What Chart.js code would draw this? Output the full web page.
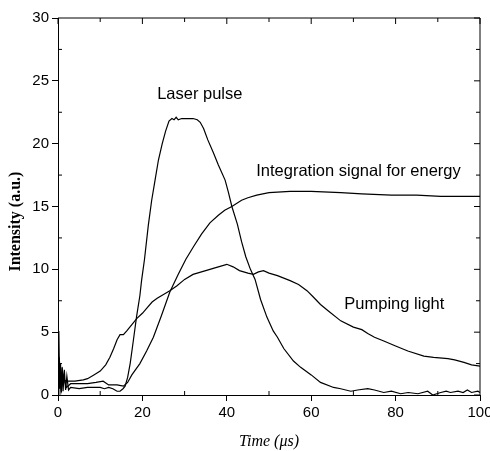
<!DOCTYPE html>
<html>
<head>
<meta charset="utf-8">
<script src="https://cdn.jsdelivr.net/npm/chart.js@4/dist/chart.umd.min.js"></script>
<style>
  body { margin: 0; background: #fff; }
  canvas { display: block; }
</style>
</head>
<body>
<canvas id="myLineChart" width="490" height="451"></canvas>
<script>
// values: time in microseconds, intensity in a.u.
const laserTime = [0, 0.2, 0.4, 0.6, 0.8, 1.0, 1.2, 1.5, 1.8, 2.1, 2.5, 3, 5, 7, 9, 10, 11, 12, 13, 14, 14.7, 15.4, 15.9, 16.5, 17.1, 17.8, 18.6, 19.4, 19.8, 20.5, 21.4, 22.2, 23, 23.8, 24.7, 25.5, 26.3, 27, 27.5, 28, 28.5, 29.3, 30, 31, 32, 33, 33.7, 34.5, 35.5, 36.8, 38, 39.6, 40.4, 41.2, 42.5, 43.5, 44.5, 45.6, 46.7, 48, 49.5, 51, 52, 53.5, 55.8, 57.5, 60, 62.2, 65.3, 67, 69.4, 71, 73.4, 75, 77.2, 79, 81.2, 83, 85.3, 87.6, 88.8, 90.7, 92, 93, 94.8, 96, 97, 98, 99.5, 100];
const laserPulse = [0, 5.1, 0.5, 2.5, 0.2, 2.2, 0.3, 2.0, 0.4, 1.5, 0.4, 0.6, 0.5, 0.6, 0.6, 0.6, 0.5, 0.6, 0.5, 0.3, 0.3, 0.5, 0.7, 1.4, 2.5, 4.2, 6.2, 7.9, 9.1, 10.8, 13.5, 15.5, 17.1, 18.7, 20.0, 21.0, 21.8, 22.0, 21.9, 22.1, 21.9, 22.0, 22.0, 22.0, 22.0, 21.9, 21.7, 21.2, 20.3, 19.3, 18.3, 17.1, 16.1, 15.0, 13.6, 12.2, 11.0, 10.0, 9.2, 7.6, 6.2, 5.1, 4.6, 3.7, 2.7, 2.2, 1.6, 1.0, 0.6, 0.5, 0.3, 0.4, 0.5, 0.4, 0.2, 0.3, 0.1, 0.2, 0.1, 0.3, 0.0, 0.2, 0.3, 0.2, 0.3, 0.2, 0.4, 0.2, 0.3, 0.2];

const energyTime = [0, 0.3, 0.7, 1.2, 2, 3, 5, 7, 9, 10.7, 12, 14, 15.5, 16.5, 17.5, 19.4, 21, 22.6, 24.5, 26.5, 28.5, 30.3, 32.1, 34, 36, 38, 39.5, 41.2, 43.5, 45, 47.1, 50, 55, 60, 67, 72, 79, 85, 90.7, 95, 100];
const energySignal = [0, 2.0, 0.3, 1.5, 0.6, 0.9, 0.9, 0.9, 1.0, 1.1, 0.8, 0.8, 0.7, 1.0, 1.6, 2.5, 3.5, 4.6, 6.3, 8.2, 9.6, 10.8, 11.8, 12.8, 13.7, 14.3, 14.7, 15.0, 15.5, 15.7, 15.9, 16.1, 16.2, 16.2, 16.1, 16.0, 15.9, 15.9, 15.8, 15.8, 15.8];

const pumpTime = [0, 0.3, 0.6, 1, 1.5, 2, 4, 6, 7, 8.5, 10, 11.3, 12.3, 13.2, 14, 14.7, 15.5, 16.3, 17.5, 18.7, 20, 21, 22.3, 23.5, 25, 26.5, 28.2, 30, 32, 34, 36, 38, 40, 41.5, 43, 45, 46.3, 47.5, 48.7, 50, 52, 55, 57, 59, 60.5, 62.2, 64, 67, 70, 72, 73.4, 75, 77.2, 80, 82.9, 86.7, 89, 92.4, 94, 96.2, 98, 100];
const pumpLight = [0, 3.0, 1.0, 2.0, 1.2, 1.1, 1.1, 1.2, 1.3, 1.6, 1.9, 2.4, 3.0, 3.7, 4.4, 4.8, 4.8, 5.1, 5.6, 6.1, 6.5, 6.9, 7.4, 7.7, 8.0, 8.3, 8.7, 9.2, 9.6, 9.8, 10.0, 10.2, 10.4, 10.2, 9.9, 9.7, 9.6, 9.8, 9.9, 9.7, 9.5, 9.1, 8.8, 8.3, 7.8, 7.2, 6.7, 5.9, 5.4, 5.2, 4.9, 4.6, 4.3, 3.9, 3.5, 3.1, 3.0, 2.9, 2.8, 2.6, 2.4, 2.3];

const curveLabels = [
  { text: "Laser pulse", x: 33.6, y: 23.9 },
  { text: "Integration signal for energy", x: 71.2, y: 17.8 },
  { text: "Pumping light", x: 79.7, y: 7.2 }
];

const yTitle = "Intensity (a.u.)";

const toPoints = (xs, ys) => xs.map((x, i) => ({ x: x, y: ys[i] }));

const sansFont = "'Liberation Sans', Arial, sans-serif";
const serifFont = "'Liberation Serif', 'Times New Roman', serif";

// frame, inward ticks on all four sides, y title and the curve names
const framePlugin = {
  id: "frame",
  afterDraw(chart) {
    const ctx = chart.ctx;
    const area = chart.chartArea;
    const xs = chart.scales.x;
    const ys = chart.scales.y;
    ctx.save();
    ctx.strokeStyle = "#000";
    ctx.lineWidth = 1;
    ctx.beginPath();
    ctx.moveTo(area.left, area.top);
    ctx.lineTo(area.right, area.top);
    ctx.lineTo(area.right, area.bottom);
    ctx.stroke();

    ctx.beginPath();
    for (let v = 0; v <= 100; v += 10) {
      const px = xs.getPixelForValue(v);
      const major = v % 20 === 0;
      ctx.moveTo(px, area.top);
      ctx.lineTo(px, area.top + (major ? 6 : 4));
      if (!major) {
        ctx.moveTo(px, area.bottom);
        ctx.lineTo(px, area.bottom - 4);
      }
    }
    for (let v = 0; v <= 30; v += 2.5) {
      const py = ys.getPixelForValue(v);
      const major = v % 5 === 0;
      ctx.moveTo(area.right, py);
      ctx.lineTo(area.right - (major ? 6 : 4), py);
      if (!major) {
        ctx.moveTo(area.left, py);
        ctx.lineTo(area.left + 4, py);
      }
    }
    ctx.stroke();

    ctx.fillStyle = "#000";
    ctx.font = "16.5px " + sansFont;
    ctx.textAlign = "center";
    ctx.textBaseline = "middle";
    curveLabels.forEach(function(l) {
      ctx.fillText(l.text, xs.getPixelForValue(l.x), ys.getPixelForValue(l.y));
    });

    ctx.translate(16, ys.getPixelForValue(13.8));
    ctx.rotate(-Math.PI / 2);
    ctx.font = "bold 16px " + serifFont;
    ctx.fillText(yTitle, 0, 0);
    ctx.restore();
  }
};

const lineStyle = {
  borderColor: "#000",
  backgroundColor: "#000",
  borderWidth: 1.2,
  pointRadius: 0,
  fill: false,
  tension: 0
};

const ctx = document.getElementById("myLineChart").getContext("2d");
const chart = new Chart(ctx, {
  type: "line",
  data: {
    datasets: [
      Object.assign({ label: "Laser pulse", data: toPoints(laserTime, laserPulse) }, lineStyle),
      Object.assign({ label: "Integration signal for energy", data: toPoints(energyTime, energySignal) }, lineStyle),
      Object.assign({ label: "Pumping light", data: toPoints(pumpTime, pumpLight) }, lineStyle)
    ]
  },
  options: {
    responsive: false,
    animation: false,
    layout: { padding: { top: 18, right: 10, left: 0, bottom: 0 } },
    plugins: {
      legend: { display: false },
      tooltip: { enabled: false }
    },
    scales: {
      x: {
        type: "linear",
        min: 0,
        max: 100,
        afterFit: function(scale) {
          scale.height = 56;
          scale.paddingLeft = 0;
          scale.paddingRight = 0;
        },
        ticks: {
          stepSize: 20,
          color: "#000",
          padding: 3,
          maxRotation: 0,
          font: { family: sansFont, size: 15 }
        },
        grid: { drawOnChartArea: false, tickLength: 6, color: "#000" },
        border: { color: "#000", width: 1 },
        title: {
          display: true,
          text: "Time (\u03bcs)",
          color: "#000",
          padding: { top: 0, bottom: 0 },
          font: { family: serifFont, size: 16, style: "italic" }
        }
      },
      y: {
        min: 0,
        max: 30,
        afterFit: function(scale) {
          scale.width = 58;
          scale.paddingTop = 0;
          scale.paddingBottom = 0;
        },
        ticks: {
          stepSize: 5,
          color: "#000",
          padding: 3,
          font: { family: sansFont, size: 15 }
        },
        grid: { drawOnChartArea: false, tickLength: 6, color: "#000" },
        border: { color: "#000", width: 1 }
      }
    }
  },
  plugins: [framePlugin]
});
</script>
</body>
</html>
